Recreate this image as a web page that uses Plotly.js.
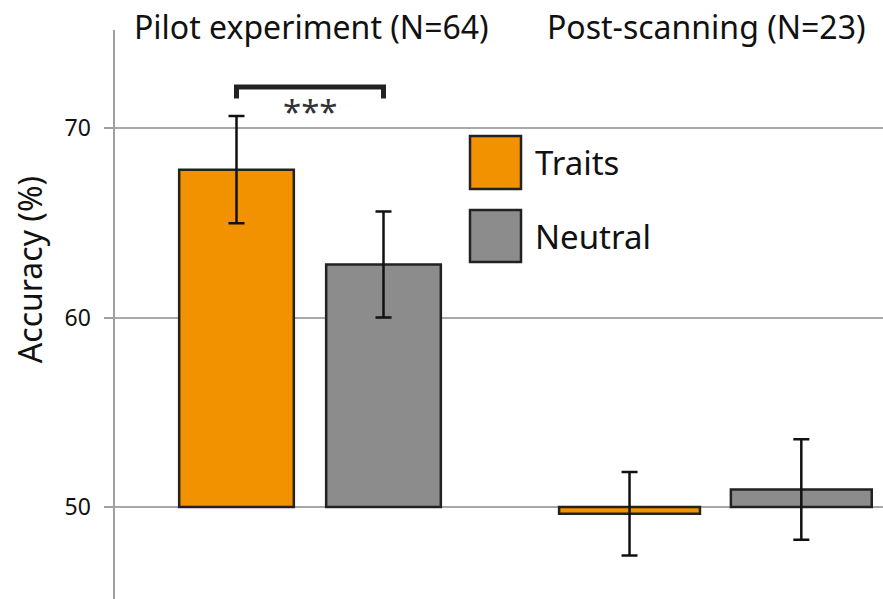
<!DOCTYPE html>
<html>
<head>
<meta charset="utf-8">
<script src="https://cdn.plot.ly/plotly-3.0.1.min.js"></script>
<style>html,body{margin:0;padding:0;background:#fff;}#chart{width:883px;height:599px;}</style>
</head>
<body>
<div id="chart"></div>
<script>
// ---- data ----
const conditions = ['Traits', 'Neutral'];
const groups = ['Pilot experiment (N=64)', 'Post-scanning (N=23)'];
const pilotMean = [67.8, 62.8];
const pilotErr = [2.83, 2.8];
const postMean = [49.65, 50.93];
const postErr = [2.2, 2.65];
const chanceLevel = 50;
const yTicks = [50, 60, 70];
const significance = '***';

// ---- styling ----
const colors = ['#F39200', '#8C8C8C'];
const FONT = 'Noto Sans, Open Sans, sans-serif';
const edge = '#222222';

function barTrace(means, errs, xa, width) {
  return {
    type: 'bar',
    x: conditions,
    y: means.map(v => v - chanceLevel),
    base: means.map(() => chanceLevel),
    xaxis: xa, yaxis: 'y',
    width: width,
    marker: {color: colors, line: {color: edge, width: 2.5}},
    error_y: {type: 'data', array: errs, visible: true, color: '#111', thickness: 2.5, width: 8},
    showlegend: false,
    hoverinfo: 'skip'
  };
}

const traces = [
  barTrace(pilotMean, pilotErr, 'x', 0.78),
  barTrace(postMean, postErr, 'x2', 0.82)
];

const H = 569; // plot height in px
const pxY = py => (599 - py) / H;
const pxX = px => (px - 115) / 768;

const shapes = [];
const annotations = [];

// legend boxes
conditions.forEach((c, i) => {
  const top = [136, 210][i], bot = [189, 262][i];
  shapes.push({type: 'rect', xref: 'paper', yref: 'paper',
    x0: pxX(470), x1: pxX(521), y0: pxY(bot), y1: pxY(top),
    fillcolor: colors[i], line: {color: edge, width: 2.5}});
  annotations.push({xref: 'paper', yref: 'paper', x: pxX(533), y: pxY((top + bot) / 2),
    xanchor: 'left', yanchor: 'middle', text: c, showarrow: false,
    font: {family: FONT, size: 33, color: '#111'}});
});

// significance bracket
shapes.push({type: 'path', xref: 'x', yref: 'y',
  path: 'M 0,71.55 L 0,72.16 L 1,72.16 L 1,71.55',
  line: {color: edge, width: 5}});
annotations.push({xref: 'x', yref: 'y', x: 0.5, y: 70.85, text: significance,
  showarrow: false, xanchor: 'center', yanchor: 'middle',
  font: {family: FONT, size: 33, color: '#333'}});

// group titles
annotations.push({xref: 'paper', yref: 'paper', x: pxX(311.5), y: pxY(27), text: groups[0],
  showarrow: false, xanchor: 'center', yanchor: 'middle',
  font: {family: FONT, size: 32, color: '#111'}});
annotations.push({xref: 'paper', yref: 'paper', x: pxX(706.5), y: pxY(27), text: groups[1],
  showarrow: false, xanchor: 'center', yanchor: 'middle',
  font: {family: FONT, size: 32, color: '#111'}});

// y axis title
annotations.push({xref: 'paper', yref: 'y', x: pxX(29), y: 62.5, text: 'Accuracy (%)',
  textangle: -90, showarrow: false, xanchor: 'center', yanchor: 'middle',
  font: {family: FONT, size: 32, color: '#111'}});

const layout = {
  width: 883, height: 599,
  margin: {l: 115, r: 0, t: 30, b: 0, pad: 0},
  paper_bgcolor: '#ffffff', plot_bgcolor: '#ffffff',
  font: {family: FONT, color: '#111'},
  bargap: 0,
  xaxis: {domain: [0, pxX(500)], range: [-0.8265, 1.7925], type: 'category',
    showticklabels: false, ticks: '', showgrid: false, zeroline: false, showline: false, anchor: 'y'},
  xaxis2: {domain: [pxX(500), 1], range: [-0.754, 1.4755], type: 'category',
    showticklabels: false, ticks: '', showgrid: false, zeroline: false, showline: false, anchor: 'y'},
  yaxis: {range: [45.15, 75.17], tickvals: yTicks, ticktext: yTicks.map(String),
    showline: true, linecolor: '#a0a0a0', linewidth: 2.5,
    ticks: 'outside', ticklen: 9, tickwidth: 2, tickcolor: '#a0a0a0',
    showgrid: true, gridcolor: '#a8a8a8', gridwidth: 2, zeroline: false,
    tickfont: {family: FONT, size: 23, color: '#111'}, ticklabelstandoff: 8},
  shapes: shapes,
  annotations: annotations,
  showlegend: false
};

Plotly.newPlot('chart', traces, layout, {displayModeBar: false, staticPlot: true});
</script>
</body>
</html>
